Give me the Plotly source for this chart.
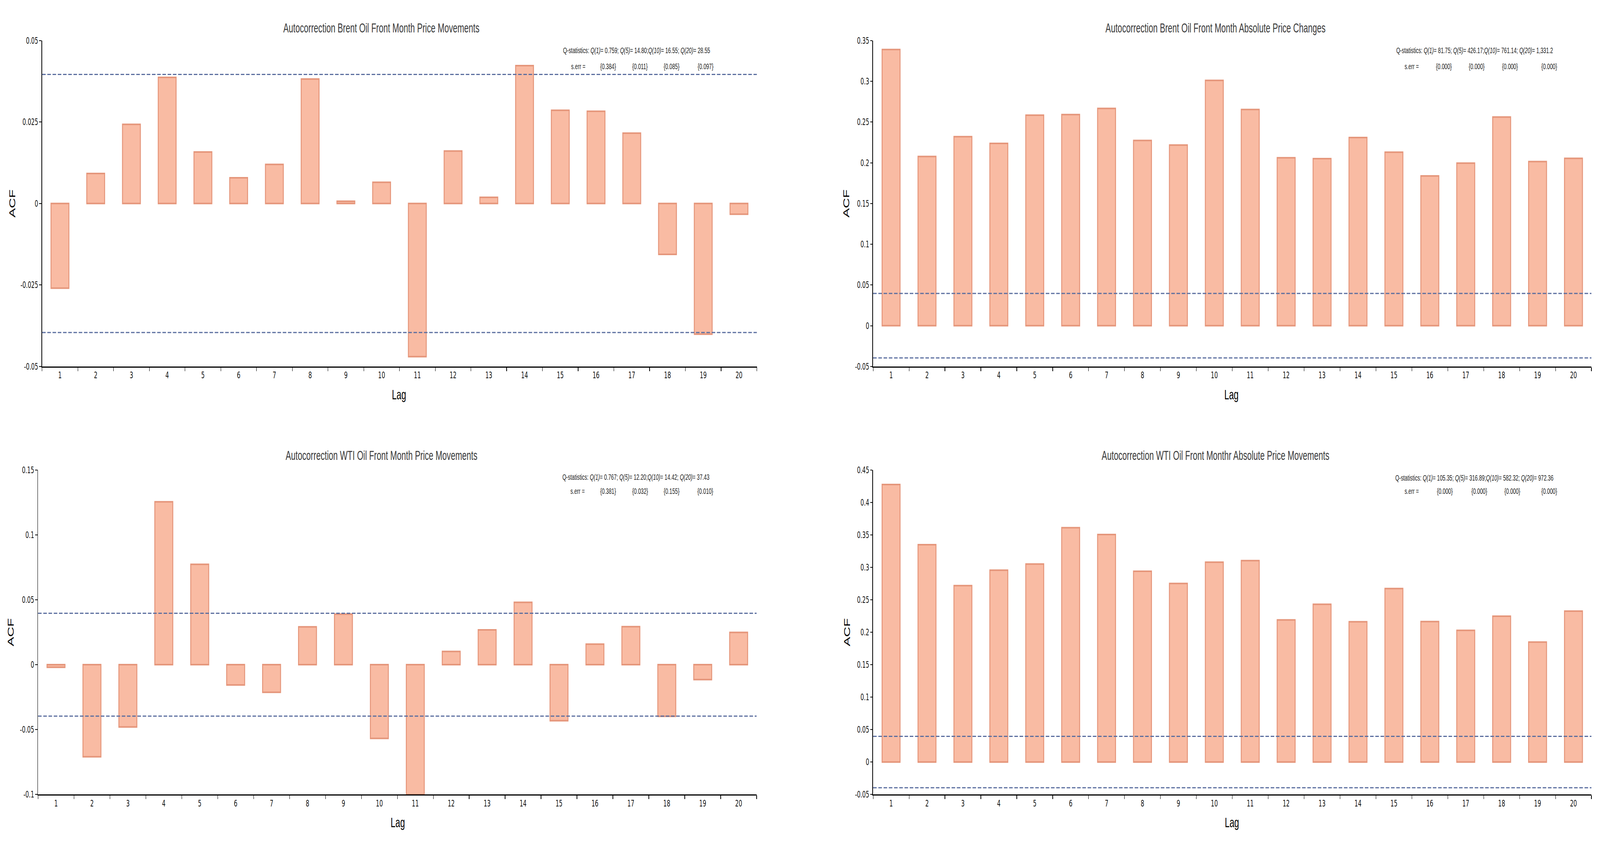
import plotly.graph_objects as go

# ---------------- data ----------------
lags = ["1", "2", "3", "4", "5", "6", "7", "8", "9", "10",
        "11", "12", "13", "14", "15", "16", "17", "18", "19", "20"]

acf_brent = [-0.026, 0.0092, 0.0243, 0.0387, 0.0158, 0.0079, 0.012, 0.0382, 0.0007, 0.0065,
             -0.047, 0.0161, 0.0019, 0.0423, 0.0286, 0.0283, 0.0216, -0.0156, -0.0401, -0.0033]
acf_brent_abs = [0.339, 0.2077, 0.232, 0.2238, 0.2585, 0.2592, 0.2667, 0.2274, 0.2218, 0.3011,
                 0.2654, 0.2061, 0.2051, 0.231, 0.213, 0.1838, 0.1995, 0.2562, 0.2015, 0.2054]
acf_wti = [-0.002, -0.0709, -0.048, 0.1254, 0.0773, -0.0156, -0.0213, 0.0291, 0.0389, -0.0568,
           -0.1, 0.0102, 0.0268, 0.048, -0.0432, 0.0158, 0.0293, -0.0398, -0.0115, 0.0248]
acf_wti_abs = [0.4275, 0.3348, 0.2717, 0.2955, 0.305, 0.361, 0.3504, 0.2939, 0.275, 0.3078,
               0.3102, 0.2189, 0.243, 0.216, 0.2672, 0.2164, 0.2029, 0.2246, 0.1848, 0.2324]

conf_upper = 0.0396
conf_lower = -0.0396

titles = ["Autocorrection Brent Oil Front Month Price Movements",
          "Autocorrection Brent Oil Front Month Absolute Price Changes",
          "Autocorrection WTI Oil Front Month Price Movements",
          "Autocorrection WTI Oil Front Monthr Absolute Price Movements"]

q_texts = [
    "Q-statistics: <i>Q(1)</i>= 0.759; <i>Q(5)</i>= 14.80;<i>Q(10)</i>= 16.55; <i>Q(20)</i>= 28.55",
    "Q-statistics: <i>Q(1)</i>= 81.75; <i>Q(5)</i>= 426.17;<i>Q(10)</i>= 761.14; <i>Q(20)</i>= 1,331.2",
    "Q-statistics: <i>Q(1)</i>= 0.767; <i>Q(5)</i>= 12.20;<i>Q(10)</i>= 14.42; <i>Q(20)</i>= 37.43",
    "Q-statistics: <i>Q(1)</i>= 105.35; <i>Q(5)</i>= 316.89;<i>Q(10)</i>= 582.32; <i>Q(20)</i>= 972.36",
]
serr_brent = ["{0.384}", "{0.011}", "{0.085}", "{0.097}"]
serr_brent_abs = ["{0.000}", "{0.000}", "{0.000}", "{0.000}"]
serr_wti = ["{0.381}", "{0.032}", "{0.155}", "{0.010}"]
serr_wti_abs = ["{0.000}", "{0.000}", "{0.000}", "{0.000}"]

ytick_brent = [-0.05, -0.025, 0, 0.025, 0.05]
ytick_brent_text = ["-0.05", "-0.025", "0", "0.025", "0.05"]
ytick_brent_abs = [-0.05, 0, 0.05, 0.1, 0.15, 0.2, 0.25, 0.3, 0.35]
ytick_brent_abs_text = ["-0.05", "0", "0.05", "0.1", "0.15", "0.2", "0.25", "0.3", "0.35"]
ytick_wti = [-0.1, -0.05, 0, 0.05, 0.1, 0.15]
ytick_wti_text = ["-0.1", "-0.05", "0", "0.05", "0.1", "0.15"]
ytick_wti_abs = [-0.05, 0, 0.05, 0.1, 0.15, 0.2, 0.25, 0.3, 0.35, 0.4, 0.45]
ytick_wti_abs_text = ["-0.05", "0", "0.05", "0.1", "0.15", "0.2", "0.25", "0.3", "0.35", "0.4", "0.45"]

# ---------------- layout (design pixels of the 6729 x 2160 canvas) ----------------
W, H = 6729, 2160


def px(x):
    return x / W


def py(y):
    return 1 - y / H


panels = [
    dict(vals=acf_brent, serr=serr_brent, ticks=ytick_brent, ticktext=ytick_brent_text,
         yrange=[-0.05, 0.05], xdom=[177, 3183], ydom=[92, 936],
         title_xy=(1604, 59), q_xy=(2677, 117), serr_y=158,
         serr_x=[2432, 2557, 2691, 2824, 2967], acf_x=52, lag_xy=(1678, 1009)),
    dict(vals=acf_brent_abs, serr=serr_brent_abs, ticks=ytick_brent_abs, ticktext=ytick_brent_abs_text,
         yrange=[-0.05, 0.35], xdom=[3672, 6693], ydom=[92, 936],
         title_xy=(5112, 59), q_xy=(6202, 117), serr_y=158,
         serr_x=[5937, 6072, 6210, 6350, 6515], acf_x=3560, lag_xy=(5179, 1009)),
    dict(vals=acf_wti, serr=serr_wti, ticks=ytick_wti, ticktext=ytick_wti_text,
         yrange=[-0.1, 0.15], xdom=[160, 3182], ydom=[1204, 2045],
         title_xy=(1604, 1166), q_xy=(2674, 1222), serr_y=1259,
         serr_x=[2429, 2557, 2692, 2824, 2966], acf_x=46, lag_xy=(1673, 2117)),
    dict(vals=acf_wti_abs, serr=serr_wti_abs, ticks=ytick_wti_abs, ticktext=ytick_wti_abs_text,
         yrange=[-0.05, 0.45], xdom=[3672, 6693], ydom=[1204, 2045],
         title_xy=(5112, 1166), q_xy=(6200, 1224), serr_y=1259,
         serr_x=[5937, 6076, 6221, 6360, 6515], acf_x=3562, lag_xy=(5181, 2117)),
]

BAR_FILL = "#F9BBA3"
BAR_EDGE = "#E5967B"
DASH_COLOR = "#5B6E9F"
TICK_FONT = dict(family="DejaVu Sans", size=23, color="#111111")
TITLE_FONT = dict(family="Liberation Sans", size=34, color="#3a3a3a")
AXT_FONT = dict(family="Liberation Sans", size=36, color="#000000")
Q_FONT = dict(family="Liberation Sans", size=21, color="#222222")

fig = go.Figure()
annotations = []
shapes = []

for i, p in enumerate(panels, start=1):
    xa = "x" if i == 1 else f"x{i}"
    ya = "y" if i == 1 else f"y{i}"
    fig.add_trace(go.Bar(
        x=lags, y=p["vals"], xaxis=xa, yaxis=ya, width=0.5,
        marker=dict(color=BAR_FILL, line=dict(color=BAR_EDGE, width=4)),
        showlegend=False, hoverinfo="x+y",
    ))
    xkey = "xaxis" if i == 1 else f"xaxis{i}"
    ykey = "yaxis" if i == 1 else f"yaxis{i}"
    fig.layout[xkey] = dict(
        domain=[px(p["xdom"][0]), px(p["xdom"][1])], anchor=ya,
        type="category", range=[-0.5, 19.5], tickson="boundaries",
        ticks="outside", ticklen=9, tickwidth=2, tickcolor="#000",
        showline=True, linecolor="#000", linewidth=3, showgrid=False,
        zeroline=False, tickfont=TICK_FONT, fixedrange=True,
    )
    fig.layout[ykey] = dict(
        domain=[py(p["ydom"][1]), py(p["ydom"][0])], anchor=xa,
        range=p["yrange"], tickmode="array", tickvals=p["ticks"], ticktext=p["ticktext"],
        ticks="outside", ticklen=9, tickwidth=2, tickcolor="#000",
        showline=True, linecolor="#000", linewidth=3, showgrid=False,
        zeroline=False, tickfont=TICK_FONT, fixedrange=True,
    )
    for yv in (conf_upper, conf_lower):
        shapes.append(dict(
            type="line", xref=f"{xa} domain", yref=ya, x0=0, x1=1, y0=yv, y1=yv,
            line=dict(color=DASH_COLOR, width=3, dash="15px,7px"), layer="above",
        ))
    annotations.append(dict(
        text=titles[i - 1], xref="paper", yref="paper",
        x=px(p["title_xy"][0]), y=py(p["title_xy"][1]),
        xanchor="center", yanchor="middle", showarrow=False, font=TITLE_FONT,
    ))
    annotations.append(dict(
        text=q_texts[i - 1], xref="paper", yref="paper",
        x=px(p["q_xy"][0]), y=py(p["q_xy"][1]),
        xanchor="center", yanchor="middle", showarrow=False, font=Q_FONT,
    ))
    serr_items = ["s.err ="] + p["serr"]
    for sx, st in zip(p["serr_x"], serr_items):
        annotations.append(dict(
            text=st, xref="paper", yref="paper", x=px(sx), y=py(p["serr_y"]),
            xanchor="center", yanchor="middle", showarrow=False, font=Q_FONT,
        ))
    ymid = (p["ydom"][0] + p["ydom"][1]) / 2
    annotations.append(dict(
        text="ACF", xref="paper", yref="paper", x=px(p["acf_x"]), y=py(ymid),
        xanchor="center", yanchor="middle", textangle=-90, showarrow=False, font=AXT_FONT,
    ))
    annotations.append(dict(
        text="Lag", xref="paper", yref="paper",
        x=px(p["lag_xy"][0]), y=py(p["lag_xy"][1]),
        xanchor="center", yanchor="middle", showarrow=False, font=AXT_FONT,
    ))

fig.update_layout(
    width=W, height=H, margin=dict(l=0, r=0, t=0, b=0, pad=0),
    paper_bgcolor="white", plot_bgcolor="white",
    annotations=annotations, shapes=shapes, bargap=0.5,
)

# The browser window may be narrower than the 6729 px canvas; fit the whole
# canvas into the window so that nothing is cut off.
post = (
    "document.documentElement.style.margin='0';"
    "document.documentElement.style.overflow='hidden';"
    "document.body.style.margin='0';"
    "document.body.style.overflow='hidden';"
    "var gd=document.getElementById('{plot_id}');"
    "var sx=Math.min(1, window.innerWidth/" + str(W) + "), sy=Math.min(1, window.innerHeight/" + str(H) + ");"
    "gd.style.transformOrigin='0 0';"
    "gd.style.transform='scale('+sx+','+sy+')';"
)
fig.write_html("out.html", post_script=post, config={"displayModeBar": False})
